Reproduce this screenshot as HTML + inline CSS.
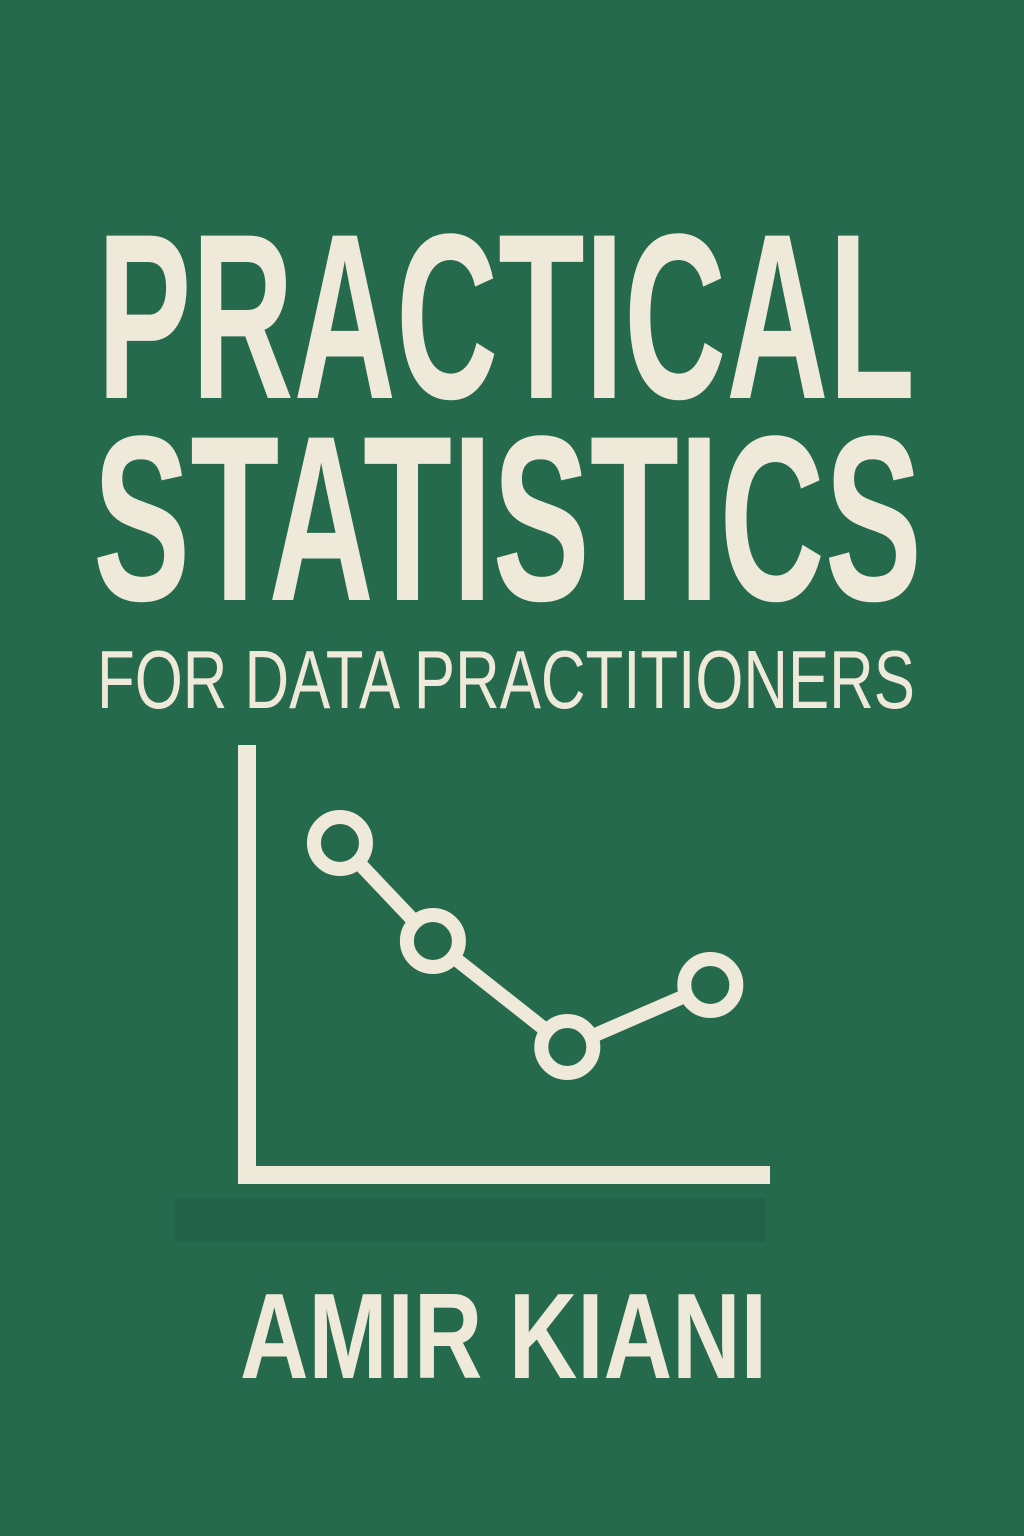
<!DOCTYPE html>
<html>
<head>
<meta charset="utf-8">
<style>
  html,body{margin:0;padding:0;}
  body{width:1024px;height:1536px;background:#266a4d;overflow:hidden;}
  svg{display:block;}
  text{font-family:"Liberation Sans",sans-serif;font-weight:bold;fill:#efe9d9;}
</style>
</head>
<body>
<svg id="cover" width="1024" height="1536" viewBox="0 0 1024 1536">
  <rect x="0" y="0" width="1024" height="1536" fill="#266a4d"/>
  <text x="97" y="398" font-size="236" textLength="818" lengthAdjust="spacingAndGlyphs">PRACTICAL</text>
  <text x="93" y="600" font-size="236" textLength="829" lengthAdjust="spacingAndGlyphs">STATISTICS</text>
  <text x="97" y="708" font-size="83" font-weight="normal" style="font-weight:normal" textLength="818" lengthAdjust="spacingAndGlyphs">FOR DATA PRACTITIONERS</text>
  <rect x="175" y="1198" width="590" height="44" fill="#22614a"/>
  <line x1="247" y1="745" x2="247" y2="1175" stroke="#efe9d9" stroke-width="18"/>
  <line x1="238" y1="1175" x2="770" y2="1175" stroke="#efe9d9" stroke-width="18"/>
  <g id="series"></g>
  <text x="240" y="1378" font-size="122" textLength="527" lengthAdjust="spacingAndGlyphs">AMIR KIANI</text>
</svg>
<script>
const xValues = [0.65, 1.3, 2.24, 3.24];
const yValues = [3.32, 2.34, 1.28, 1.9];
const pointLabels = ["p1", "p2", "p3", "p4"];

function xScale(v){ return 247 + v * 143; }
function yScale(v){ return 1175 - v * 100; }

const NS = "http://www.w3.org/2000/svg";
const g = document.getElementById("series");
const pts = xValues.map((x,i)=>[xScale(x), yScale(yValues[i])]);
const pl = document.createElementNS(NS, "polyline");
pl.setAttribute("points", pts.map(p=>p.join(",")).join(" "));
pl.setAttribute("fill", "none");
pl.setAttribute("stroke", "#efe9d9");
pl.setAttribute("stroke-width", "14");


g.appendChild(pl);
pts.forEach((p,i)=>{
  const c = document.createElementNS(NS, "circle");
  c.setAttribute("cx", p[0]);
  c.setAttribute("cy", p[1]);
  c.setAttribute("r", "26");
  c.setAttribute("fill", "#266a4d");
  c.setAttribute("stroke", "#efe9d9");
  c.setAttribute("stroke-width", "14");
  
  
  g.appendChild(c);
});
</script>
</body>
</html>
